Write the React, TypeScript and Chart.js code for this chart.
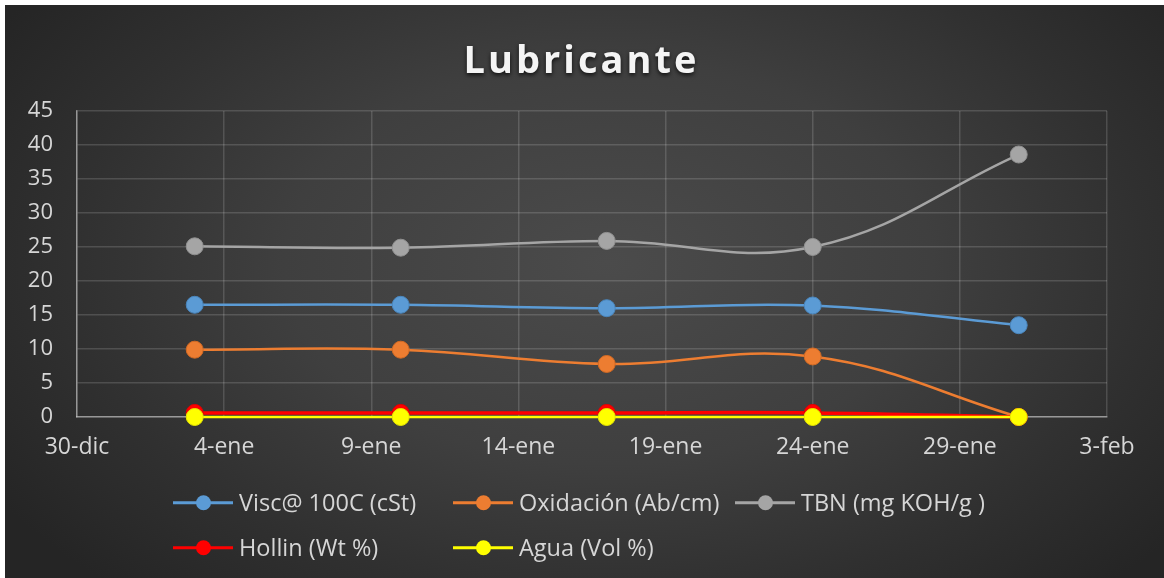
import React, { useEffect, useRef } from 'react';
import { Chart, registerables } from 'chart.js';

Chart.register(...registerables);

const titleText = 'Lubricante';
const xTickLabels = ['30-dic', '4-ene', '9-ene', '14-ene', '19-ene', '24-ene', '29-ene', '3-feb'];
// days after 30-dic for each sample (3-ene, 10-ene, 17-ene, 24-ene, 31-ene)
const sampleDays = [4, 11, 18, 25, 32];
const sampleDates = ['3-ene', '10-ene', '17-ene', '24-ene', '31-ene'];
const seriesNames = ['Visc@ 100C (cSt)', 'Oxidación (Ab/cm)', 'TBN (mg KOH/g )', 'Hollin (Wt %)', 'Agua (Vol %)'];
const viscValues = [16.5, 16.5, 16.0, 16.4, 13.5];
const oxidValues = [9.9, 9.9, 7.8, 8.9, 0];
const tbnValues = [25.1, 24.9, 25.9, 25.0, 38.6];
const hollinValues = [0.6, 0.6, 0.6, 0.6, 0];
const aguaValues = [0, 0, 0, 0, 0];
const seriesColors = ['#5B9BD5', '#ED7D31', '#A5A5A5', '#FF0000', '#FFFF00'];
const pointBorders = ['#4a86bd', '#d26a24', '#919191', '#e00000', '#e6e600'];

const FONT = '"Open Sans", "DejaVu Sans", sans-serif';

export default function App() {
  const canvasRef = useRef<HTMLCanvasElement>(null);

  useEffect(() => {
    const canvas = canvasRef.current;
    if (!canvas) return;
    const allValues = [viscValues, oxidValues, tbnValues, hollinValues, aguaValues];
    const datasets = allValues.map((vals, i) => ({
      label: seriesNames[i],
      data: vals.map((v, j) => ({ x: sampleDays[j], y: v })),
      borderColor: seriesColors[i],
      backgroundColor: seriesColors[i],
      pointBackgroundColor: seriesColors[i],
      pointBorderColor: pointBorders[i],
      pointBorderWidth: 1,
      borderWidth: i === 3 ? 3.5 : 2.5,
      pointRadius: 8.5,
      pointHoverRadius: 8.5,
      tension: 0.4,
      clip: false as const,
      order: 5 - i,
    }));

    const titlePlugin = {
      id: 'excelTitle',
      afterDraw(chart: any) {
        const ctx = chart.ctx as CanvasRenderingContext2D;
        ctx.save();
        ctx.font = `700 38px ${FONT}`;
        (ctx as any).letterSpacing = '3px';
        ctx.textAlign = 'center';
        ctx.textBaseline = 'middle';
        ctx.fillStyle = '#f4f4f4';
        ctx.shadowColor = 'rgba(0,0,0,0.75)';
        ctx.shadowBlur = 4;
        ctx.shadowOffsetY = 2;
        ctx.fillText(titleText, 576.5, 57);
        ctx.restore();
      },
    };

    const chart = new Chart(canvas, {
      type: 'line',
      data: { datasets: datasets as any },
      options: {
        animation: false,
        responsive: false,
        layout: { padding: { top: 106, right: 57, bottom: 101, left: 0 } },
        plugins: {
          legend: { display: false },
          title: { display: false },
          tooltip: {
            callbacks: {
              title: (items: any[]) => (items.length ? sampleDates[items[0].dataIndex] : ''),
            },
          },
        },
        scales: {
          x: {
            type: 'linear',
            min: 0,
            max: 35,
            afterFit: (s: any) => {
              s.height = 60;
            },
            ticks: {
              stepSize: 5,
              autoSkip: false,
              maxRotation: 0,
              callback: (v: any) => xTickLabels[Math.round(Number(v) / 5)] ?? '',
              color: '#d6d6d6',
              font: { family: FONT, size: 23 },
              padding: 17,
            },
            grid: { color: 'rgba(255,255,255,0.15)', lineWidth: 1.5, drawTicks: false },
            border: { color: 'rgba(255,255,255,0.42)', width: 1.5 },
          },
          y: {
            min: 0,
            max: 45,
            afterFit: (s: any) => {
              s.width = 72;
            },
            ticks: {
              stepSize: 5,
              color: '#d6d6d6',
              font: { family: FONT, size: 22 },
              padding: 24,
            },
            grid: { color: 'rgba(255,255,255,0.15)', lineWidth: 1.5, drawTicks: false },
            border: { color: 'rgba(255,255,255,0.42)', width: 1.5 },
          },
        },
      },
      plugins: [titlePlugin],
    });
    return () => chart.destroy();
  }, []);

  const colLeft = [168, 448, 730];
  const rowTop = [498, 543];

  return (
    <div
      style={{
        position: 'fixed',
        left: 5,
        top: 5,
        width: 1159,
        height: 573,
        background:
          'radial-gradient(ellipse 62% 78% at 52% 45%, #4b4b4b 0%, #3f3f3f 45%, #303030 75%, #252525 100%)',
        overflow: 'hidden',
      }}
    >
      <canvas ref={canvasRef} width={1159} height={573} style={{ display: 'block', width: 1159, height: 573 }} />
      {seriesNames.map((name, i) => (
        <div
          key={name}
          style={{
            position: 'absolute',
            left: colLeft[i % 3],
            top: rowTop[Math.floor(i / 3)],
            transform: 'translateY(-50%)',
            display: 'flex',
            alignItems: 'center',
            whiteSpace: 'nowrap',
          }}
        >
          <span style={{ position: 'relative', display: 'inline-block', width: 60, height: 15 }}>
            <span
              style={{
                position: 'absolute',
                left: 0,
                right: 0,
                top: 6,
                height: 2.5,
                background: seriesColors[i],
              }}
            />
            <span
              style={{
                position: 'absolute',
                left: 22.5,
                top: 0,
                width: 15,
                height: 15,
                borderRadius: '50%',
                background: seriesColors[i],
              }}
            />
          </span>
          <span
            style={{
              marginLeft: 6,
              fontFamily: FONT,
              fontSize: 23.5,
              lineHeight: 1,
              color: '#d6d6d6',
            }}
          >
            {name}
          </span>
        </div>
      ))}
    </div>
  );
}
